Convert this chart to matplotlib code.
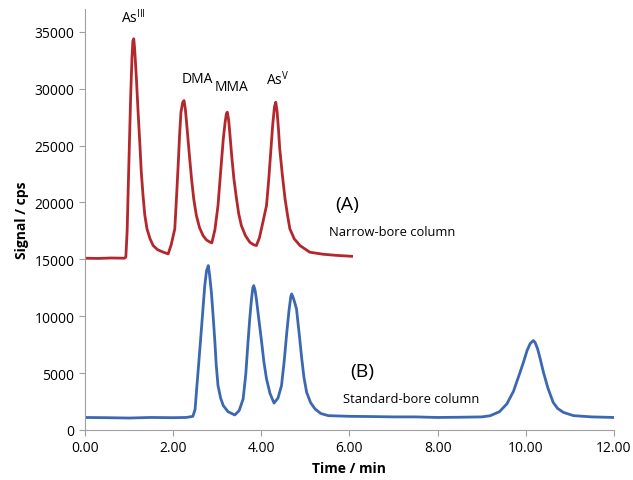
import matplotlib
matplotlib.use("Agg")
import matplotlib.pyplot as plt
from matplotlib.ticker import FormatStrFormatter

plt.rcParams['font.family'] = ['Open Sans', 'DejaVu Sans']

# Narrow-bore column (A)
narrow_time = [0.00, 0.30, 0.60, 0.90, 0.93, 0.96, 0.98, 1.01, 1.04, 1.07, 1.09, 1.11,
               1.13, 1.15, 1.17, 1.21, 1.25, 1.28, 1.32, 1.36, 1.41, 1.48, 1.55, 1.65,
               1.78, 1.89, 1.96, 2.04, 2.08, 2.12, 2.15, 2.18, 2.22, 2.25, 2.28, 2.32,
               2.37, 2.42, 2.47, 2.53, 2.60, 2.68, 2.76, 2.84, 2.88, 2.95, 3.02, 3.08,
               3.14, 3.18, 3.21, 3.23, 3.26, 3.29, 3.33, 3.38, 3.44, 3.49, 3.55, 3.64,
               3.74, 3.82, 3.89, 3.96, 4.04, 4.12, 4.17, 4.21, 4.26, 4.30, 4.33, 4.36,
               4.39, 4.42, 4.48, 4.54, 4.60, 4.65, 4.75, 4.88, 5.10, 5.40, 5.70, 6.05]
narrow_signal = [15100, 15080, 15120, 15100, 15200, 17500, 20610, 25000, 29400, 32800, 34200, 34390,
                 33500, 32200, 30870, 27800, 25010, 22700, 20610, 18900, 17680, 16800, 16210, 15850,
                 15630, 15480, 16300, 17680, 20500, 23540, 26000, 27940, 28800, 28960, 28200, 26470,
                 24200, 22080, 20300, 18850, 17800, 17090, 16700, 16510, 16450, 17600, 19730, 22700,
                 25590, 27000, 27800, 27940, 27300, 26000, 24130, 22100, 20320, 19000, 17970, 17100,
                 16510, 16300, 16210, 16900, 18300, 19730, 22000, 24130, 26800, 28400, 28810, 28000,
                 26500, 24710, 22400, 20320, 18800, 17680, 16800, 16210, 15630, 15450, 15350, 15270]

# Standard-bore column (B)
standard_time = [0.00, 0.50, 1.00, 1.50, 2.00, 2.30, 2.45, 2.50, 2.53, 2.59, 2.65, 2.69,
                 2.72, 2.76, 2.80, 2.83, 2.87, 2.91, 2.95, 2.98, 3.02, 3.08, 3.14, 3.25,
                 3.40, 3.50, 3.59, 3.65, 3.70, 3.74, 3.78, 3.81, 3.83, 3.86, 3.89, 3.95,
                 4.01, 4.06, 4.12, 4.20, 4.29, 4.38, 4.46, 4.52, 4.58, 4.63, 4.67, 4.69,
                 4.72, 4.76, 4.80, 4.86, 4.92, 4.97, 5.03, 5.12, 5.22, 5.35, 5.52, 6.00,
                 6.50, 7.00, 7.50, 8.00, 8.50, 9.00, 9.19, 9.40, 9.57, 9.72, 9.87, 9.95,
                 10.03, 10.10, 10.17, 10.21, 10.27, 10.33, 10.40, 10.50, 10.62, 10.72,
                 10.85, 11.08, 11.50, 12.00]
standard_signal = [1100, 1080, 1050, 1100, 1080, 1100, 1200, 1800, 3310, 6200, 9170, 11200,
                   12690, 14000, 14450, 13600, 12110, 10000, 7710, 5700, 3900, 2800, 2140, 1600,
                   1320, 1700, 2730, 4900, 7710, 9800, 11520, 12500, 12690, 12300, 11520, 9600,
                   7710, 6000, 4490, 3200, 2370, 2800, 3900, 6000, 8580, 10500, 11700, 11960,
                   11700, 11200, 10640, 8500, 6240, 4600, 3310, 2400, 1850, 1450, 1260, 1200,
                   1180, 1150, 1150, 1100, 1120, 1150, 1250, 1600, 2290, 3400, 5070, 6000,
                   7000, 7600, 7860, 7700, 7100, 6200, 5070, 3700, 2430, 1900,
                   1550, 1260, 1150, 1100]

peak_labels = ["As$^{\\mathregular{III}}$", "DMA", "MMA", "As$^{\\mathregular{V}}$"]
peak_label_x = [1.09, 2.54, 3.33, 4.38]
peak_label_y = [36300, 30870, 30170, 30870]


def plot_chromatograms():
    fig = plt.figure(figsize=(6.33, 4.81), dpi=100)
    ax = fig.add_axes([0.134, 0.104, 0.836, 0.875])

    ax.plot(narrow_time, narrow_signal, color="#B3272D", lw=2.0)
    ax.plot(standard_time, standard_signal, color="#3C68B2", lw=2.0)

    for lab, x, y in zip(peak_labels, peak_label_x, peak_label_y):
        ax.text(x, y, lab, ha="center", va="center", fontsize=10)

    ax.text(5.94, 19880, "(A)", ha="center", va="center", fontsize=14)
    ax.text(5.53, 17410, "Narrow-bore column", ha="left", va="center", fontsize=9.3)
    ax.text(6.28, 5190, "(B)", ha="center", va="center", fontsize=14)
    ax.text(5.85, 2810, "Standard-bore column", ha="left", va="center", fontsize=9.3)

    ax.set_xlim(0, 12)
    ax.set_ylim(0, 37000)
    ax.set_xticks([0, 2, 4, 6, 8, 10, 12])
    ax.set_yticks(range(0, 35001, 5000))
    ax.xaxis.set_major_formatter(FormatStrFormatter("%.2f"))

    ax.spines["top"].set_visible(False)
    ax.spines["right"].set_visible(False)
    for s in ("left", "bottom"):
        ax.spines[s].set_color("#A0A0A0")
    ax.tick_params(colors="#A0A0A0", labelcolor="black", labelsize=10, direction="out", length=4)

    ax.set_xlabel("Time / min", fontweight="bold", fontsize=10)
    ax.set_ylabel("Signal / cps", fontweight="bold", fontsize=10)

    fig.savefig("out.png", dpi=100)
    plt.close(fig)


if __name__ == "__main__":
    plot_chromatograms()
